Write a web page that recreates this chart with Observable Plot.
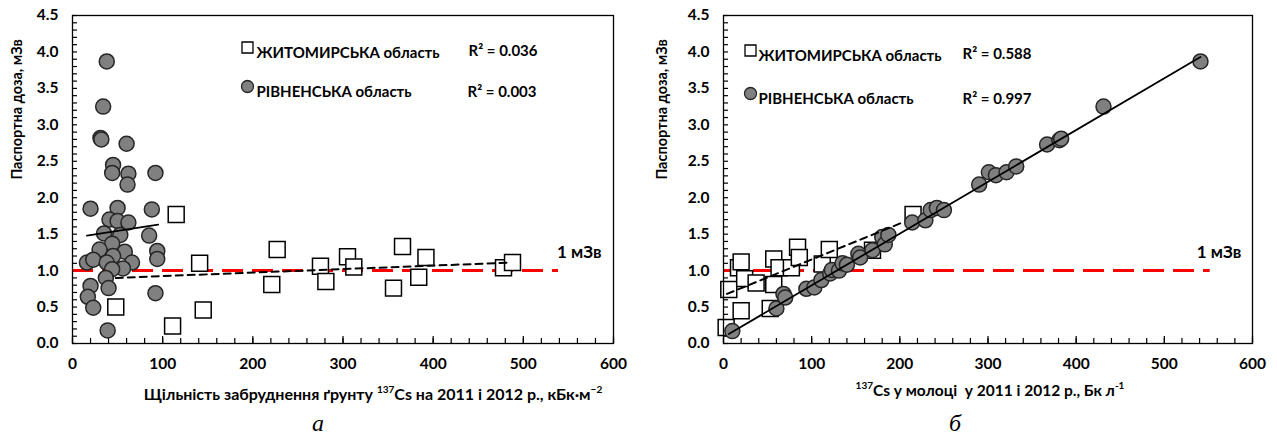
<!DOCTYPE html>
<html><head><meta charset="utf-8">
<script src="https://cdn.jsdelivr.net/npm/d3@7"></script>
<script src="https://cdn.jsdelivr.net/npm/@observablehq/plot@0.6"></script>
<style>
body{margin:0;background:#fff;}
#wrap{position:relative;width:1277px;height:436px;font-family:Lato,"Open Sans",sans-serif;color:#000;}
.panel{position:absolute;top:0;}
.xt{position:absolute;font-weight:bold;font-size:16px;white-space:nowrap;transform:translate(-50%,-50%);}
.xt sup{font-size:10px;}
.cap{position:absolute;font-family:"Liberation Serif",serif;font-style:italic;font-size:24px;transform:translate(-50%,-50%);}
</style></head><body><div id="wrap"></div>
<script>
// ---- data: panel а (soil contamination) ----
const leftZhX = [48, 111, 115, 141, 145, 221, 227, 275, 281, 305, 312, 356, 366, 384, 392, 478, 488];
const leftZhY = [0.50, 0.24, 1.77, 1.10, 0.46, 0.81, 1.29, 1.06, 0.85, 1.19, 1.05, 0.76, 1.33, 0.91, 1.18, 1.04, 1.11];
const leftRvX = [38, 34, 31, 32, 60, 45, 44, 62, 92, 61, 20, 50, 88, 41, 50, 62, 35, 53, 85, 44, 30, 58, 94, 45, 94, 16, 23, 38, 66, 56, 44, 37, 40, 20, 17, 23, 92, 39];
const leftRvY = [3.87, 3.25, 2.82, 2.80, 2.74, 2.45, 2.34, 2.33, 2.34, 2.18, 1.85, 1.86, 1.84, 1.70, 1.68, 1.66, 1.51, 1.49, 1.48, 1.37, 1.29, 1.26, 1.27, 1.20, 1.16, 1.11, 1.15, 1.11, 1.11, 1.03, 1.02, 0.90, 0.76, 0.79, 0.64, 0.49, 0.69, 0.18];
const leftZhTrendX = [48, 486], leftZhTrendY = [0.90, 1.11];
const leftRvTrendX = [16, 95], leftRvTrendY = [1.48, 1.63];
const leftLimitX = [0, 539];
const leftR2 = ["R² = 0.036", "R² = 0.003"];

// ---- data: panel б (milk) ----
const rightZhX = [3, 6, 17, 20, 20, 24, 37, 53, 57, 57, 63, 77, 84, 86, 112, 120, 169, 215];
const rightZhY = [0.22, 0.74, 1.04, 1.12, 0.45, 0.89, 0.83, 0.48, 1.16, 0.81, 1.04, 1.04, 1.32, 1.18, 1.09, 1.29, 1.28, 1.77];
const rightRvX = [10, 60, 68, 70, 94, 103, 111, 121, 123, 131, 135, 140, 153, 155, 169, 180, 183, 187, 214, 229, 235, 242, 250, 290, 301, 309, 321, 332, 367, 381, 383, 431, 541];
const rightRvY = [0.17, 0.48, 0.68, 0.63, 0.75, 0.77, 0.87, 0.96, 1.01, 1.00, 1.10, 1.08, 1.23, 1.18, 1.28, 1.46, 1.36, 1.49, 1.66, 1.69, 1.83, 1.86, 1.83, 2.18, 2.35, 2.31, 2.35, 2.43, 2.73, 2.79, 2.81, 3.25, 3.87];
const rightZhTrendX = [4, 205], rightZhTrendY = [0.68, 1.67];
const rightRvTrendX = [6, 541], rightRvTrendY = [0.13, 3.93];
const rightLimitX = [0, 552];
const rightR2 = ["R² = 0.588", "R² = 0.997"];

// ---- shared ----
const limitY = 1.0;
const limitLabel = "1 мЗв", limitLabelX = 562, limitLabelY = 1.25;
const seriesNames = ["ЖИТОМИРСЬКА область", "РІВНЕНСЬКА область"];
const yTitle = "Паспортна доза, мЗв";
const xMajor = [0, 100, 200, 300, 400, 500, 600];
const yMajor = [0, 0.5, 1, 1.5, 2, 2.5, 3, 3.5, 4, 4.5];

const zip = (xs, ys) => xs.map((x, i) => ({x, y: ys[i]}));

function chart(o) {
  const zh = zip(o.zhX, o.zhY), rv = zip(o.rvX, o.rvY);
  return Plot.plot({
    width: o.width, height: 405,
    marginLeft: o.marginLeft, marginRight: 25, marginTop: 15, marginBottom: 62,
    x: {domain: [0, 600]}, y: {domain: [0, 4.5]},
    style: {fontFamily: "Lato, 'Open Sans', sans-serif", fontSize: "15px", fontWeight: "bold", color: "#000", background: "#fff"},
    marks: [
      Plot.axisX({ticks: d3.range(0, 601, 20), tickSize: -5, tickFormat: () => "", strokeWidth: 1.2, label: null}),
      Plot.axisX({ticks: xMajor, tickSize: -7, tickPadding: 21, tickFormat: d => String(d), strokeWidth: 1.2, label: null, fontSize: 15.5}),
      Plot.axisY({ticks: d3.range(0, 46).map(i => i / 10), tickSize: -5, tickFormat: () => "", strokeWidth: 1.2, label: null}),
      Plot.axisY({ticks: yMajor, tickSize: 0, tickPadding: 14, tickFormat: d => d.toFixed(1), label: null, fontSize: 15.5}),
      Plot.text([yTitle], {frameAnchor: "left", dx: o.yTitleDx, rotate: -90, fontSize: 14.5}),
      Plot.ruleY([limitY], {x1: o.limitX[0], x2: o.limitX[1], stroke: "#ff0000", strokeWidth: 3, strokeDasharray: "21,9"}),
      Plot.dot(zh, {x: "x", y: "y", symbol: "square", r: 9, fill: "#fff", stroke: "#000", strokeWidth: 1.5}),
      Plot.dot(rv, {x: "x", y: "y", r: 7.5, fill: "#808080", stroke: "#262626", strokeWidth: 1.5}),
      Plot.line(zip(o.zhTrendX, o.zhTrendY), {x: "x", y: "y", stroke: "#000", strokeWidth: 2, strokeDasharray: "7,5"}),
      Plot.line(zip(o.rvTrendX, o.rvTrendY), {x: "x", y: "y", stroke: "#000", strokeWidth: 1.8}),
      Plot.text([limitLabel], {x: limitLabelX, y: limitLabelY, fontSize: 17}),
      Plot.dot([0], {frameAnchor: "top-left", dx: o.leg.sx, dy: o.leg.y1, symbol: "square", r: 6.2, fill: "#fff", stroke: "#000", strokeWidth: 1.3}),
      Plot.dot([0], {frameAnchor: "top-left", dx: o.leg.sx, dy: o.leg.y2, r: 6, fill: "#808080", stroke: "#262626", strokeWidth: 1.3}),
      Plot.text([seriesNames[0]], {frameAnchor: "top-left", dx: o.leg.tx, dy: o.leg.y1, textAnchor: "start", fontSize: 15}),
      Plot.text([seriesNames[1]], {frameAnchor: "top-left", dx: o.leg.tx, dy: o.leg.y2, textAnchor: "start", fontSize: 15}),
      Plot.text([o.r2[0]], {frameAnchor: "top-left", dx: o.leg.rx1, dy: o.leg.y1 - 2, textAnchor: "start", fontSize: 15}),
      Plot.text([o.r2[1]], {frameAnchor: "top-left", dx: o.leg.rx2, dy: o.leg.y2, textAnchor: "start", fontSize: 15}),
      Plot.frame({stroke: "#000", strokeWidth: 1.3})
    ]
  });
}

const wrap = document.getElementById("wrap");
const left = chart({width: 638, marginLeft: 72, zhX: leftZhX, zhY: leftZhY, rvX: leftRvX, rvY: leftRvY,
  zhTrendX: leftZhTrendX, zhTrendY: leftZhTrendY, rvTrendX: leftRvTrendX, rvTrendY: leftRvTrendY,
  limitX: leftLimitX, r2: leftR2, yTitleDx: -55,
  leg: {sx: 175, tx: 184, rx1: 396, rx2: 395, y1: 32, y2: 71}});
const right = chart({width: 639, marginLeft: 85, zhX: rightZhX, zhY: rightZhY, rvX: rightRvX, rvY: rightRvY,
  zhTrendX: rightZhTrendX, zhTrendY: rightZhTrendY, rvTrendX: rightRvTrendX, rvTrendY: rightRvTrendY,
  limitX: rightLimitX, r2: rightR2, yTitleDx: -61,
  leg: {sx: 27, tx: 35, rx1: 239, rx2: 239, y1: 35, y2: 78}});
const p1 = document.createElement("div"); p1.className = "panel"; p1.style.left = "0px"; p1.appendChild(left);
const p2 = document.createElement("div"); p2.className = "panel"; p2.style.left = "638px"; p2.appendChild(right);
wrap.appendChild(p1); wrap.appendChild(p2);

function addText(cls, html, x, y, size) {
  const d = document.createElement("div"); d.className = cls; d.innerHTML = html;
  d.style.left = x + "px"; d.style.top = y + "px"; if (size) d.style.fontSize = size; wrap.appendChild(d);
}
addText("xt", "Щільність забруднення ґрунту <sup>137</sup>Cs на 2011 і 2012 р., кБк·м<sup>−2</sup>", 373, 393);
addText("xt", "<sup>137</sup>Cs у молоці&nbsp; у 2011 і 2012 р., Бк л<sup>-1</sup>", 990, 389, "15.5px");
addText("cap", "а", 318, 423);
addText("cap", "б", 955, 423);
</script></body></html>
